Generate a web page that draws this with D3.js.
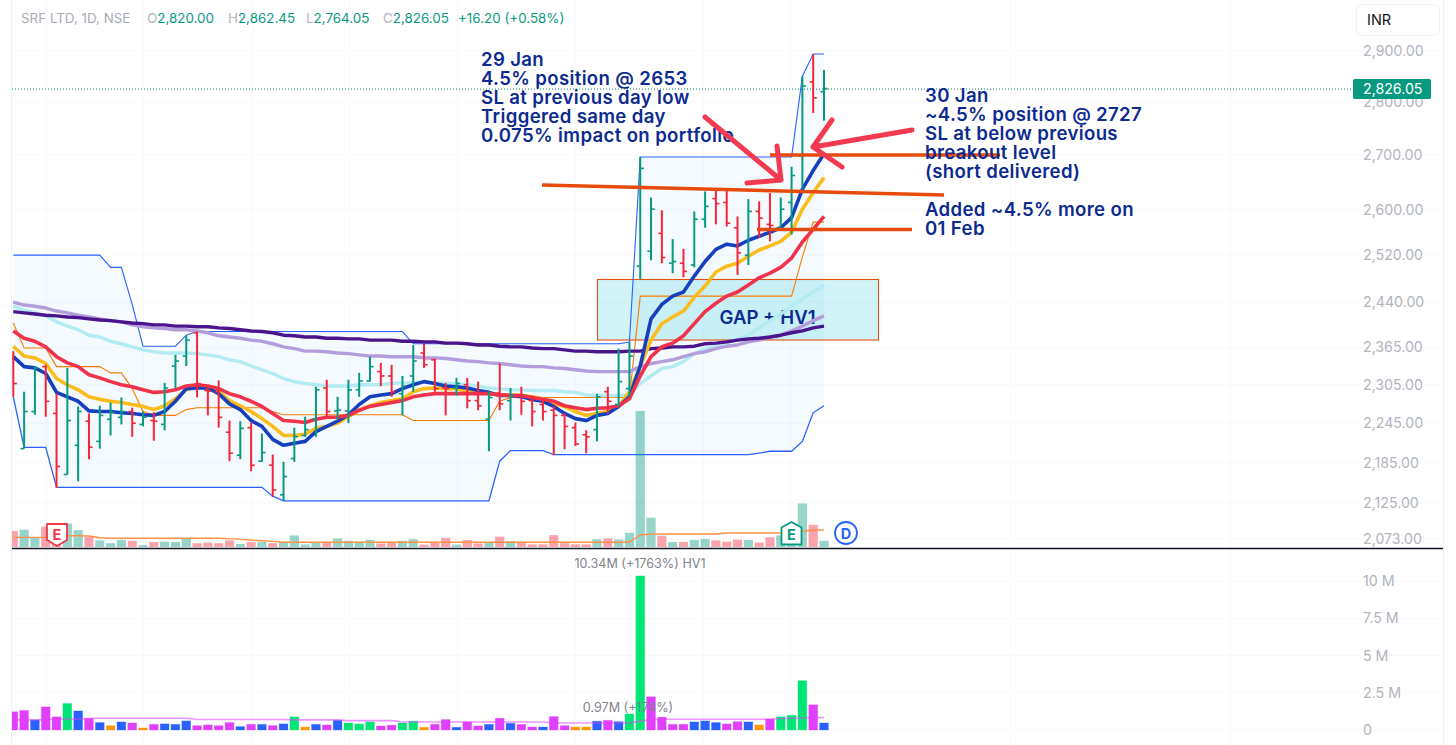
<!DOCTYPE html>
<html><head><meta charset="utf-8">
<style>html,body{margin:0;padding:0;background:#fff;overflow:hidden}svg{display:block}text{font-family:Inter,"Noto Sans",sans-serif}</style>
<script src="https://cdnjs.cloudflare.com/ajax/libs/d3/7.9.0/d3.min.js"></script>
</head><body><svg id="c" width="1456" height="745"></svg>
<script>
const open_=[2347,2206,2263,2334,2260,2167,2211,2248,2217,2251,2254,2263,2243,2249,2243,2335,2351,2389,2296,2294,2231,2196,2238,2187,2181,2137,2191,2226,2251,2300,2264,2264,2297,2311,2326,2319,2291,2319,2356,2345,2300,2300,2305,2280,2251,2292,2280,2288,2280,2274,2265,2257,2238,2227,2235,2294,2274,2299,2501,2527,2558,2506,2506,2503,2583,2620,2613,2568,2520,2597,2574,2568,2613,2698,2839,2820];
const high=[2359,2294,2335,2337,2291,2332,2271,2260,2272,2277,2285,2269,2263,2262,2308,2353,2385,2391,2300,2312,2249,2248,2246,2229,2197,2186,2238,2255,2302,2313,2286,2313,2324,2350,2340,2337,2319,2369,2371,2347,2308,2316,2316,2310,2294,2339,2300,2302,2288,2283,2272,2260,2246,2234,2291,2302,2363,2374,2696,2622,2599,2548,2531,2597,2633,2635,2635,2588,2619,2615,2630,2622,2678,2850,2894,2862.45];
const low=[2286,2206,2258,2255,2147,2167,2157,2190,2206,2226,2243,2224,2240,2218,2234,2300,2335,2285,2257,2238,2187,2190,2172,2186,2134,2128,2186,2224,2224,2255,2251,2245,2286,2310,2303,2286,2257,2294,2332,2294,2257,2288,2268,2265,2202,2265,2249,2258,2240,2249,2196,2205,2210,2199,2217,2260,2271,2286,2479,2511,2506,2489,2482,2499,2568,2574,2570,2486,2503,2551,2544,2568,2556,2637,2779,2764.05];
const close_=[2307,2263,2332,2279,2179,2249,2263,2208,2257,2262,2263,2245,2254,2248,2300,2343,2377,2307,2295,2254,2199,2237,2181,2200,2144,2164,2224,2235,2297,2263,2265,2297,2311,2334,2319,2294,2303,2343,2337,2299,2299,2307,2280,2272,2285,2275,2288,2279,2263,2263,2257,2240,2213,2224,2286,2279,2310,2351,2675,2601,2516,2509,2492,2583,2606,2611,2576,2524,2597,2585,2572,2601,2662,2831,2808,2826.05];
const emaFast=[2350,2334,2332,2323,2293,2286,2279,2264,2263,2263,2261,2260,2258,2257,2263,2279,2299,2300,2300,2291,2275,2266,2249,2240,2220,2211,2214,2217,2232,2240,2248,2258,2274,2286,2289,2291,2299,2305,2310,2307,2303,2302,2300,2296,2293,2288,2288,2286,2282,2279,2271,2260,2252,2249,2257,2260,2271,2286,2335,2412,2436,2450,2457,2484,2509,2530,2539,2536,2546,2553,2560,2568,2586,2637,2671,2702];
const emaYellow=[2367,2351,2348,2339,2315,2305,2297,2286,2282,2279,2277,2274,2271,2266,2272,2283,2297,2302,2300,2294,2280,2272,2263,2252,2240,2226,2226,2228,2237,2240,2245,2255,2265,2272,2277,2280,2283,2294,2299,2300,2299,2299,2294,2294,2291,2289,2289,2288,2286,2283,2275,2271,2263,2257,2260,2264,2271,2294,2335,2377,2404,2415,2425,2448,2467,2491,2501,2506,2518,2529,2536,2544,2560,2601,2631,2658];
const emaRed=[2392,2380,2375,2366,2350,2340,2334,2321,2316,2310,2305,2302,2297,2293,2294,2297,2303,2305,2303,2299,2291,2286,2279,2271,2260,2249,2248,2246,2251,2254,2254,2257,2265,2271,2274,2277,2280,2286,2289,2291,2291,2291,2291,2291,2291,2289,2288,2288,2285,2282,2279,2272,2269,2266,2268,2269,2272,2283,2319,2350,2366,2372,2384,2404,2424,2438,2450,2457,2469,2481,2489,2499,2515,2543,2565,2588];
const emaCyan=[2433,2427,2422,2417,2407,2400,2394,2385,2382,2375,2371,2366,2361,2358,2356,2356,2356,2355,2353,2350,2345,2342,2335,2329,2323,2315,2310,2307,2305,2303,2303,2303,2305,2305,2305,2307,2308,2308,2310,2308,2307,2307,2305,2303,2300,2299,2297,2297,2296,2296,2296,2294,2293,2289,2288,2288,2288,2289,2307,2319,2331,2334,2342,2355,2363,2367,2372,2379,2385,2397,2409,2420,2433,2445,2457,2469];
const emaLavender=[2440,2435,2433,2430,2425,2422,2418,2415,2412,2409,2407,2402,2399,2397,2396,2394,2394,2392,2389,2384,2382,2380,2377,2375,2371,2366,2363,2359,2359,2358,2356,2355,2353,2351,2351,2350,2350,2350,2348,2348,2347,2345,2343,2342,2340,2339,2337,2335,2334,2334,2332,2331,2329,2327,2326,2326,2326,2326,2334,2339,2342,2345,2350,2355,2358,2363,2367,2369,2374,2377,2382,2385,2392,2400,2409,2417];
const emaPurple=[2424,2422,2420,2418,2417,2415,2414,2412,2410,2409,2407,2405,2404,2402,2402,2400,2400,2399,2399,2397,2396,2394,2392,2391,2389,2385,2384,2382,2382,2380,2380,2379,2379,2377,2377,2377,2375,2375,2374,2374,2372,2372,2371,2369,2369,2367,2366,2366,2364,2363,2363,2361,2359,2359,2358,2358,2358,2359,2359,2363,2364,2366,2366,2367,2371,2372,2374,2377,2379,2380,2382,2385,2389,2392,2397,2400];
const channelUpper=[2520,2520,2520,2520,2520,2520,2520,2520,2520,2499,2499,2436,2367,2367,2367,2367,2385,2391,2391,2391,2391,2391,2391,2391,2391,2391,2391,2391,2391,2391,2391,2391,2391,2391,2391,2391,2391,2371,2371,2371,2371,2371,2371,2371,2371,2371,2371,2371,2371,2371,2371,2371,2371,2371,2371,2371,2371,2374,2696,2696,2696,2696,2696,2696,2696,2696,2696,2696,2696,2696,2696,2696,2696,2850,2894,2894];
const channelLower=[2286,2208,2208,2208,2148,2148,2148,2148,2148,2148,2148,2148,2148,2148,2148,2148,2148,2148,2148,2148,2148,2148,2148,2148,2135,2128,2128,2128,2128,2128,2128,2128,2128,2128,2128,2128,2128,2128,2128,2128,2128,2128,2128,2128,2128,2187,2203,2203,2203,2203,2197,2197,2197,2197,2197,2197,2197,2197,2197,2197,2197,2197,2197,2197,2197,2197,2197,2197,2197,2199,2202,2202,2202,2217,2261,2272];
const innerLine=[2405,2364,2364,2364,2334,2334,2334,2334,2334,2324,2324,2299,2263,2257,2257,2257,2266,2269,2269,2269,2269,2269,2269,2269,2263,2258,2258,2258,2258,2258,2258,2258,2258,2258,2258,2258,2258,2249,2249,2249,2249,2249,2249,2249,2249,2279,2285,2285,2285,2285,2285,2285,2285,2285,2285,2285,2285,2285,2450,2450,2450,2450,2450,2450,2450,2450,2450,2450,2450,2450,2450,2450,2450,2517,2578,2578];
const volume=[1.22,1.31,.68,1.55,.88,1.78,1.28,.77,.50,.29,.54,.47,.14,.38,.41,.38,.61,.29,.34,.29,.50,.23,.38,.38,.29,.41,.88,.20,.38,.34,.65,.47,.41,.54,.27,.32,.47,.59,.18,.38,.70,.18,.54,.27,.38,.79,.45,.38,.20,.20,.90,.29,.20,.20,.59,.65,.56,1.08,10.34,2.23,.86,.38,.38,.54,.61,.50,.41,.56,.54,.34,.74,.88,.99,3.31,1.69,.47];
const volumeClass="m m b m m g b m b o b m o m b b b m m m m b m b m b g o b m b g g g m m g g o m m b m m b m b m m b m m o o b m b g g m m m m b b b m m b o m g g g m b".split(" ");
const volumeMaUpper=[.73,.73,.73,.73,.86,.86,.86,.84,.70,.66,.66,.66,.66,.66,.66,.66,.66,.66,.66,.66,.64,.58,.53,.48,.43,.36,.36,.36,.36,.36,.36,.36,.36,.36,.36,.36,.36,.36,.36,.36,.36,.36,.36,.36,.36,.36,.36,.36,.36,.36,.36,.36,.36,.36,.36,.36,.36,.38,.91,.98,.99,.99,.99,.99,.99,.99,1.06,1.06,1.06,1.06,1.06,1.06,1.1,1.2,1.29,1.29];
const volumeMaLower=[.68,.68,.68,.68,.74,.74,.74,.79,.79,.79,.79,.79,.79,.79,.79,.79,.79,.70,.70,.70,.70,.70,.70,.70,.70,.70,.68,.68,.68,.68,.68,.63,.63,.63,.63,.63,.54,.54,.54,.54,.54,.54,.54,.54,.54,.54,.54,.54,.54,.54,.47,.47,.47,.47,.47,.47,.47,.47,.61,.68,.72,.72,.72,.72,.72,.72,.72,.72,.72,.72,.72,.77,.79,.81,.83,.83];
const priceTicks=[2073,2125,2185,2245,2305,2365,2440,2520,2600,2700,2800,2900];
const volumeTicks=[0,2.5,5,7.5,10];
const volumeTickLabels=["0","2.5 M","5 M","7.5 M","10 M"];
const leftNote=["29 Jan","4.5% position @ 2653","SL at previous day low","Triggered same day","0.075% impact on portfolio"];
const rightNote=["30 Jan","~4.5% position @ 2727","SL at below previous","breakout level","(short delivered)"];
const addNote=["Added ~4.5% more on","01 Feb"];
const legendValues=[["O","2,820.00"],["H","2,862.45"],["L","2,764.05"],["C","2,826.05"]];
const lastPrice=2826.05;

const svg=d3.select("#c");
const idx=d3.range(open_.length);
const x=d3.scaleLinear().domain([0,75]).range([13.3,824]);
const y=d3.scaleLog().domain([2073,2900]).range([539,51]);
const vTop=d3.scaleLinear().domain([0,10.34]).range([547,411]);
const vLow=d3.scaleLinear().domain([0,10]).range([730,581]);
const UP="#089981",DOWN="#f7253a",INK="#0c2a90";
const W=1443;

svg.append("clipPath").attr("id","pane").append("rect").attr("x",12).attr("y",0).attr("width",W-12).attr("height",745);
const plot=svg.append("g").attr("clip-path","url(#pane)");

// frame and grid
const grid=plot.append("g").attr("stroke","#f8f9fb").attr("stroke-width",1);
[46,143,252,349,457,575,703,790,1010,1230].forEach(v=>grid.append("line").attr("x1",v+.5).attr("x2",v+.5).attr("y1",0).attr("y2",745));
priceTicks.forEach(t=>grid.append("line").attr("x1",12).attr("x2",W).attr("y1",y(t)).attr("y2",y(t)));
volumeTicks.forEach(t=>grid.append("line").attr("x1",12).attr("x2",W).attr("y1",vLow(t)).attr("y2",vLow(t)));
svg.append("line").attr("x1",11.5).attr("x2",11.5).attr("y1",0).attr("y2",745).attr("stroke","#f0f3fa");
svg.append("line").attr("x1",W+.5).attr("x2",W+.5).attr("y1",0).attr("y2",745).attr("stroke","#f0f3fa");

// channel
plot.append("path").datum(idx).attr("fill","#2196f3").attr("fill-opacity",.05)
 .attr("d",d3.area().x(i=>x(i)).y0(i=>y(channelLower[i])).y1(i=>y(channelUpper[i])));
const ln=arr=>d3.line().x(i=>x(i)).y(i=>y(arr[i]));

// gap rectangle and its label lie under the indicator lines
plot.append("rect").attr("x",597.5).attr("y",279.5).attr("width",281).attr("height",60.5).attr("fill","#00bcd4").attr("fill-opacity",.18).attr("stroke","#e2500f").attr("stroke-width",1.1);
plot.append("text").attr("x",719.5).attr("y",323.5).attr("fill",INK).attr("font-size",18.6).attr("font-weight",600).text("GAP + HV1");

plot.append("path").datum(idx).attr("fill","none").attr("stroke","#2962ff").attr("stroke-width",1.1).attr("d",ln(channelUpper));
plot.append("path").datum(idx).attr("fill","none").attr("stroke","#2962ff").attr("stroke-width",1.3).attr("d",ln(channelLower));
plot.append("path").datum(idx).attr("fill","none").attr("stroke","#f57c00").attr("stroke-width",1.1).attr("d",ln(innerLine));

// volume in price pane
plot.append("g").selectAll("rect").data(idx).join("rect")
 .attr("x",i=>x(i)-4.6).attr("width",9.2).attr("y",i=>vTop(volume[i])).attr("height",i=>547-vTop(volume[i]))
 .attr("fill",i=>close_[i]>=open_[i]?UP:DOWN).attr("fill-opacity",.42);
plot.append("path").datum(idx).attr("fill","none").attr("stroke","#ff9146").attr("stroke-width",1.4)
 .attr("d",d3.line().x(i=>x(i)).y(i=>vTop(volumeMaUpper[i])));

// moving averages
[[emaCyan,"#b2ebf2",3.4],[emaLavender,"#b39ddb",3.4],[emaPurple,"#4a148c",3.4],[emaYellow,"#fbbc1c",3.6],[emaFast,"#163fbd",3.6],[emaRed,"#f0324a",3.6]].forEach(([a,c,w])=>{
 plot.append("path").datum(idx).attr("fill","none").attr("stroke",c).attr("stroke-width",w).attr("stroke-linejoin","round").attr("d",ln(a));
});

// price bars
const bars=plot.append("g").selectAll("g").data(idx).join("g")
 .attr("stroke",i=>close_[i]>=open_[i]?UP:DOWN).attr("stroke-width",2);
bars.append("line").attr("x1",i=>x(i)).attr("x2",i=>x(i)).attr("y1",i=>y(high[i])).attr("y2",i=>y(low[i]));
bars.append("line").attr("x1",i=>x(i)-3.6).attr("x2",i=>x(i)).attr("y1",i=>y(open_[i])).attr("y2",i=>y(open_[i])).attr("stroke-width",1.6);
bars.append("line").attr("x1",i=>x(i)).attr("x2",i=>x(i)+3.6).attr("y1",i=>y(close_[i])).attr("y2",i=>y(close_[i])).attr("stroke-width",1.6);

// last price dotted
svg.append("line").attr("x1",12).attr("x2",1353).attr("y1",y(lastPrice)+.5).attr("y2",y(lastPrice)+.5)
 .attr("stroke","#0a7f6c").attr("stroke-dasharray","1 2").attr("stroke-width",1);

// pane separator
svg.append("line").attr("x1",12).attr("x2",W).attr("y1",548.5).attr("y2",548.5).attr("stroke","#131722").attr("stroke-width",1.4);

// lower volumes
const volColor=d3.scaleOrdinal().domain(["g","b","m","o"]).range(["#00e676","#2962ff","#e040fb","#ff9800"]);
plot.append("g").selectAll("rect").data(idx).join("rect")
 .attr("x",i=>x(i)-4.4).attr("width",8.8).attr("y",i=>vLow(volume[i])).attr("height",i=>730-vLow(volume[i]))
 .attr("fill",i=>volColor(volumeClass[i])).attr("stroke",i=>volColor(volumeClass[i])).attr("stroke-opacity",.3).attr("stroke-width",1);
plot.append("path").datum(idx).attr("fill","none").attr("stroke","#e040fb").attr("stroke-opacity",.55).attr("stroke-width",1.6)
 .attr("d",d3.line().x(i=>x(i)).y(i=>vLow(volumeMaLower[i])));

// price and volume axes
const fmt=d3.format(",.2f");
const ax=svg.append("g").attr("transform","translate(1363,0)")
 .call(d3.axisRight(y).tickValues(priceTicks).tickFormat(fmt).tickSize(0).tickPadding(0));
const ax2=svg.append("g").attr("transform","translate(1363,0)")
 .call(d3.axisRight(vLow).tickValues(volumeTicks).tickFormat((d,i)=>volumeTickLabels[i]).tickSize(0).tickPadding(0));
[ax,ax2].forEach(a=>{a.select(".domain").remove();a.selectAll("text").attr("fill","#b2b5be").attr("font-size",14.2).attr("font-family","Inter");});

// last price tag
svg.append("rect").attr("x",1353).attr("y",y(lastPrice)-9.5).attr("width",78).attr("height",20).attr("rx",1.5).attr("fill","#089981");
svg.append("text").attr("x",1363).attr("y",y(lastPrice)+5.5).attr("fill","#fff").attr("font-size",14.2).text(fmt(lastPrice));

// INR box
svg.append("rect").attr("x",1356.5).attr("y",4.5).attr("width",83).attr("height",31).attr("rx",6).attr("fill","#fff").attr("stroke","#eff1f5");
svg.append("text").attr("x",1367).attr("y",25).attr("fill","#131722").attr("font-size",14.5).text("INR");

// header
svg.append("text").attr("x",21).attr("y",23).attr("fill","#a9acb6").attr("font-size",13.4).text("SRF LTD, 1D, NSE");
[[147],[228],[306],[383]].forEach(([px],k)=>{
 const t=svg.append("text").attr("x",px).attr("y",23).attr("font-size",13.4);
 t.append("tspan").attr("fill","#b2b5be").text(legendValues[k][0]);
 t.append("tspan").attr("fill","#089981").text(legendValues[k][1]);
});
svg.append("text").attr("x",458).attr("y",23).attr("fill","#089981").attr("font-size",13.4).text("+16.20 (+0.58%)");

// volume labels
svg.append("text").attr("x",640).attr("y",568).attr("text-anchor","middle").attr("fill","#7f828c").attr("font-size",12.6).text("10.34M (+1763%) HV1");
svg.append("text").attr("x",628).attr("y",712).attr("text-anchor","middle").attr("fill","#7f828c").attr("font-size",12.6).text("0.97M (+174%)");

// earnings & dividend badges
svg.append("path").attr("d","M47 524h20v16l-10 6l-10-6z").attr("fill","#fff").attr("stroke","#f23645").attr("stroke-width",1.8).attr("stroke-linejoin","round");
svg.append("text").attr("x",57).attr("y",539.5).attr("text-anchor","middle").attr("fill","#f23645").attr("font-size",14.5).attr("font-weight",700).text("E");
svg.append("path").attr("d","M791.5 522l10 5.5v17h-20v-17z").attr("fill","#fff").attr("stroke","#089981").attr("stroke-width",1.8).attr("stroke-linejoin","round");
svg.append("text").attr("x",791.5).attr("y",539.5).attr("text-anchor","middle").attr("fill","#089981").attr("font-size",14.5).attr("font-weight",700).text("E");
svg.append("circle").attr("cx",846).attr("cy",533).attr("r",11).attr("fill","#fff").attr("stroke","#2962ff").attr("stroke-width",1.8);
svg.append("text").attr("x",846).attr("y",538.5).attr("text-anchor","middle").attr("fill","#2962ff").attr("font-size",14.5).attr("font-weight",700).text("D");

// drawn level lines
const lv=svg.append("g").attr("stroke","#e64a0c").attr("stroke-width",3.4);
lv.append("line").attr("x1",542).attr("y1",185).attr("x2",944).attr("y2",195);
lv.append("line").attr("x1",770).attr("y1",155).attr("x2",1000).attr("y2",155);
lv.append("line").attr("x1",757).attr("y1",229.5).attr("x2",912).attr("y2",229.5);

// notes
const note=(lines,px,py)=>lines.forEach((s,i)=>svg.append("text").attr("x",px).attr("y",py+i*19.1).attr("fill",INK).attr("font-size",18.6).attr("letter-spacing",.35).attr("font-weight",600).text(s));
note(leftNote,481,66);
note(rightNote,925,102);
note(addNote,925,215.5);

// arrows
const ar=svg.append("g").attr("stroke","#f23a50").attr("stroke-width",5).attr("stroke-linecap","round").attr("stroke-linejoin","round").attr("fill","none");
ar.append("path").attr("d","M705 117L781 180M777 146L781 180L747 183");
ar.append("path").attr("d","M912 130L813 147M832 120L813 147L842 167");
</script></body></html>
